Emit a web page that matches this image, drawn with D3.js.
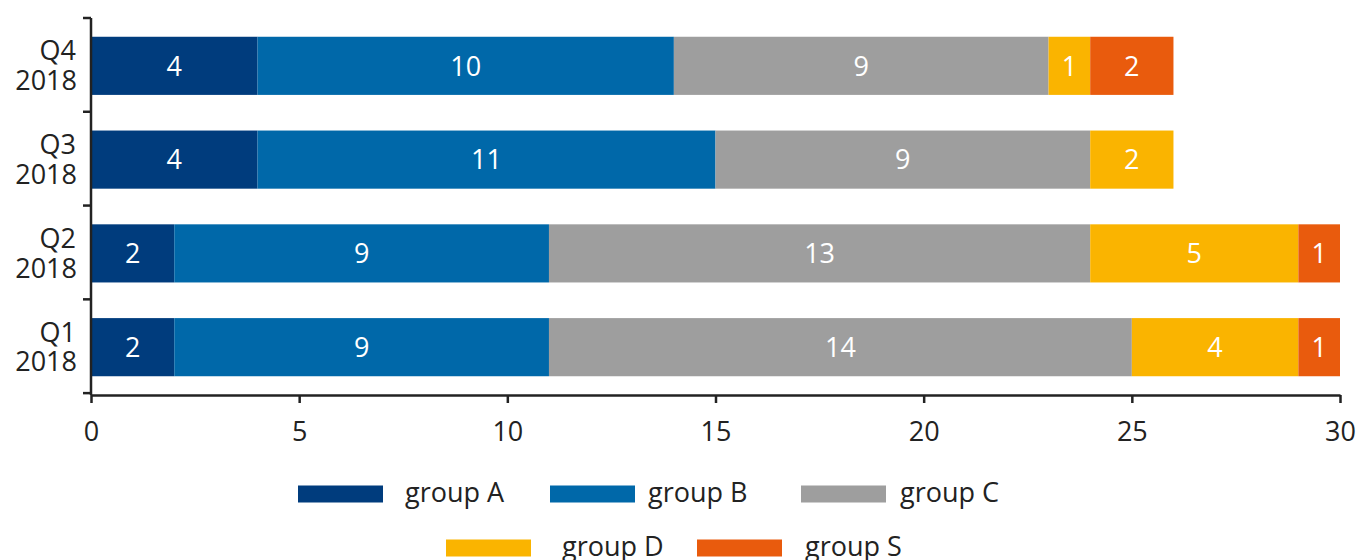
<!DOCTYPE html>
<html>
<head>
<meta charset="utf-8">
<script src="https://cdn.jsdelivr.net/npm/d3@7"></script>
<style>
  body { margin: 0; background: #fff; }
  svg { font-family: "Open Sans", sans-serif; }
</style>
</head>
<body>
<svg id="chart"></svg>
<script>
const quarters = ["Q4 2018", "Q3 2018", "Q2 2018", "Q1 2018"];
const groups = ["group A", "group B", "group C", "group D", "group S"];
const groupA = [4, 4, 2, 2];
const groupB = [10, 11, 9, 9];
const groupC = [9, 9, 13, 14];
const groupD = [1, 2, 5, 4];
const groupS = [2, 0, 1, 1];
const xTicks = [0, 5, 10, 15, 20, 25, 30];
const colors = ["#003c7d", "#0068a9", "#9e9e9e", "#fab400", "#e95b0d"];

var width = 1357, height = 560;
var fontSize = "27px";
var svg = d3.select("#chart").attr("width", width).attr("height", height);

// rows for the stack
var rows = quarters.map((q, i) => ({
    quarter: q,
    "group A": groupA[i], "group B": groupB[i], "group C": groupC[i],
    "group D": groupD[i], "group S": groupS[i]
}));
var series = d3.stack().keys(groups)(rows);

var x = d3.scaleLinear().domain([0, 30]).range([91, 1340]);
var y = d3.scaleBand().domain(quarters).range([18, 395])
    .paddingInner(0.38).paddingOuter(0.2);
var color = d3.scaleOrdinal().domain(groups).range(colors);

// bars
var layer = svg.selectAll("g.layer")
    .data(series)
    .enter()
    .append("g")
    .attr("class", "layer")
    .attr("fill", d => color(d.key));

layer.selectAll("rect")
    .data(d => d.filter(s => s[1] - s[0] > 0))
    .enter()
    .append("rect")
    .attr("x", d => x(d[0]))
    .attr("y", d => y(d.data.quarter))
    .attr("width", d => x(d[1]) - x(d[0]))
    .attr("height", y.bandwidth());

// value labels inside the segments
layer.selectAll("text")
    .data(d => d.filter(s => s[1] - s[0] > 0))
    .enter()
    .append("text")
    .attr("x", d => (x(d[0]) + x(d[1])) / 2)
    .attr("y", d => y(d.data.quarter) + y.bandwidth() / 2)
    .attr("dy", "0.36em")
    .attr("text-anchor", "middle")
    .attr("fill", "#fff")
    .style("font-size", fontSize)
    .text(d => d[1] - d[0]);

// x axis
var xAxis = svg.append("g")
    .attr("transform", "translate(0,395)")
    .call(d3.axisBottom(x).tickValues(xTicks).tickSize(8).tickPadding(19).tickSizeOuter(0));
xAxis.select(".domain").attr("stroke", "#222").attr("stroke-width", 2.5);
xAxis.selectAll(".tick line").attr("stroke", "#222").attr("stroke-width", 2.5);
xAxis.selectAll("text").style("font-size", fontSize).attr("fill", "#222").attr("font-family", "Open Sans");

// y axis: line with ticks between bands
var yAxis = svg.append("g");
yAxis.append("line")
    .attr("x1", x(0)).attr("x2", x(0))
    .attr("y1", y.range()[0]).attr("y2", y.range()[1])
    .attr("stroke", "#222").attr("stroke-width", 2.5);
yAxis.selectAll("line.tick")
    .data(d3.range(quarters.length + 1))
    .enter()
    .append("line")
    .attr("class", "tick")
    .attr("x1", x(0) - 8).attr("x2", x(0))
    .attr("y1", i => y.range()[0] + i * y.step())
    .attr("y2", i => y.range()[0] + i * y.step())
    .attr("stroke", "#222").attr("stroke-width", 2.5);

var yLabels = yAxis.selectAll("text")
    .data(quarters)
    .enter()
    .append("text")
    .attr("text-anchor", "end")
    .attr("fill", "#222")
    .style("font-size", fontSize)
    .attr("y", d => y(d) + y.bandwidth() / 2);
yLabels.append("tspan")
    .attr("x", 76).attr("dy", "-0.2em")
    .text(d => d.split(" ")[0]);
yLabels.append("tspan")
    .attr("x", 77).attr("dy", "1.1em")
    .text(d => d.split(" ")[1]);

// legend, two rows: [swatch x, row y, text x]
var legendPos = [[298, 494, 405], [550, 494, 648], [801, 494, 900], [446, 548, 562], [697, 548, 805]];
var legend = svg.selectAll("g.legend")
    .data(groups)
    .enter()
    .append("g")
    .attr("class", "legend");
legend.append("rect")
    .attr("x", (d, i) => legendPos[i][0])
    .attr("y", (d, i) => legendPos[i][1] - 8.5)
    .attr("width", 85).attr("height", 17)
    .attr("fill", d => color(d));
legend.append("text")
    .attr("x", (d, i) => legendPos[i][2])
    .attr("y", (d, i) => legendPos[i][1])
    .attr("dy", "0.3em")
    .attr("fill", "#222")
    .style("font-size", fontSize)
    .text(d => d);
</script>
</body>
</html>
